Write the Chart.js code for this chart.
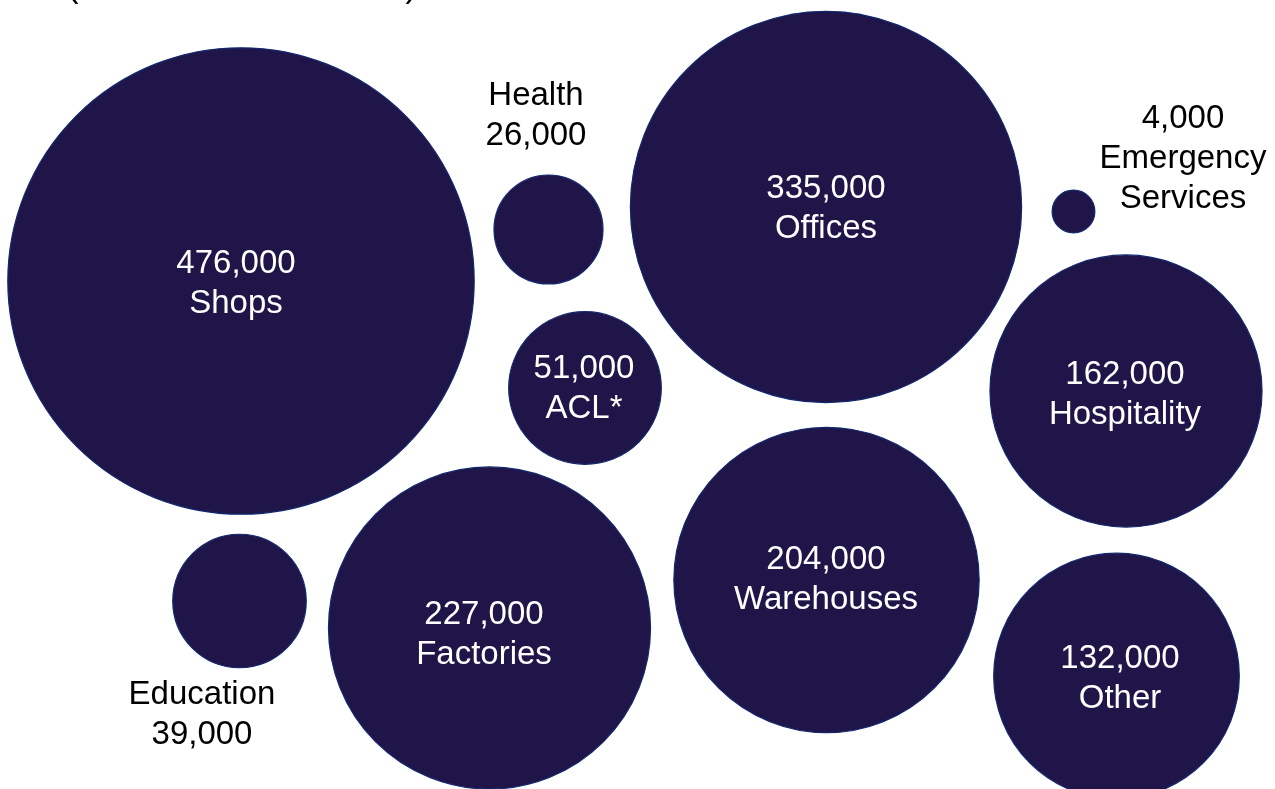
<!DOCTYPE html>
<html>
<head>
<meta charset="utf-8">
<script src="https://cdn.jsdelivr.net/npm/chart.js@4"></script>
<style>
  html, body { margin: 0; padding: 0; background: #fff; overflow: hidden; }
  canvas { display: block; }
</style>
</head>
<body>
<canvas id="burbujas" width="1275" height="789"></canvas>
<script>
// categorias y numero de locales
var categorias = ['Shops', 'Health', 'Offices', 'Emergency Services', 'ACL*', 'Hospitality', 'Education', 'Factories', 'Warehouses', 'Other'];
var valores = [476000, 26000, 335000, 4000, 51000, 162000, 39000, 227000, 204000, 132000];
// centro de cada burbuja en el plano
var posX = [241, 548.5, 826, 1073.5, 585, 1126, 239.5, 489.5, 826.5, 1116.5];
var posY = [281, 229.5, 207, 211.5, 388, 391, 601, 628, 580, 676];

// donde va cada etiqueta, lineas y si va dentro (blanco) o fuera (negro)
var etiquetas = [
  { x: 236, y: 264, lineas: ['476,000', 'Shops'], dentro: true },
  { x: 536, y: 96, lineas: ['Health', '26,000'], dentro: false },
  { x: 826, y: 189, lineas: ['335,000', 'Offices'], dentro: true },
  { x: 1183, y: 119, lineas: ['4,000', 'Emergency', 'Services'], dentro: false },
  { x: 584, y: 369, lineas: ['51,000', 'ACL*'], dentro: true },
  { x: 1125, y: 375, lineas: ['162,000', 'Hospitality'], dentro: true },
  { x: 202, y: 695, lineas: ['Education', '39,000'], dentro: false },
  { x: 484, y: 615, lineas: ['227,000', 'Factories'], dentro: true },
  { x: 826, y: 560, lineas: ['204,000', 'Warehouses'], dentro: true },
  { x: 1120, y: 659, lineas: ['132,000', 'Other'], dentro: true }
];

// el area de la burbuja es proporcional al valor
var escala = 0.338;
var puntos = valores.map(function (v, i) {
  return { x: posX[i], y: posY[i], r: escala * Math.sqrt(v) };
});

var fuente = '33px "Liberation Sans", Arial, sans-serif';

var textos = {
  id: 'textos',
  afterDatasetsDraw: function (chart) {
    var c = chart.ctx;
    var sx = chart.scales.x, sy = chart.scales.y;
    c.save();
    c.font = fuente;
    c.textAlign = 'center';
    c.textBaseline = 'middle';
    etiquetas.forEach(function (e) {
      c.fillStyle = e.dentro ? '#ffffff' : '#000000';
      e.lineas.forEach(function (t, k) {
        c.fillText(t, sx.getPixelForValue(e.x), sy.getPixelForValue(e.y + k * 40));
      });
    });
    // titulo cortado arriba
    c.fillStyle = '#000000';
    c.textBaseline = 'alphabetic';
    c.fillText('(', sx.getPixelForValue(73), sy.getPixelForValue(-3));
    c.fillText(')', sx.getPixelForValue(411), sy.getPixelForValue(-3));
    c.restore();
  }
};

var ctx = document.getElementById('burbujas').getContext('2d');
var grafica = new Chart(ctx, {
  type: 'bubble',
  data: {
    labels: categorias,
    datasets: [{
      label: 'Locales',
      data: puntos,
      backgroundColor: '#1f1548',
      borderColor: '#13286e',
      borderWidth: 1.2,
      clip: false
    }]
  },
  options: {
    responsive: false,
    animation: false,
    layout: { padding: 0, autoPadding: false },
    scales: {
      x: { display: false, min: 0, max: 1275 },
      y: { display: false, min: 0, max: 789, reverse: true }
    },
    plugins: {
      legend: { display: false },
      tooltip: { enabled: false }
    }
  },
  plugins: [textos]
});
</script>
</body>
</html>
